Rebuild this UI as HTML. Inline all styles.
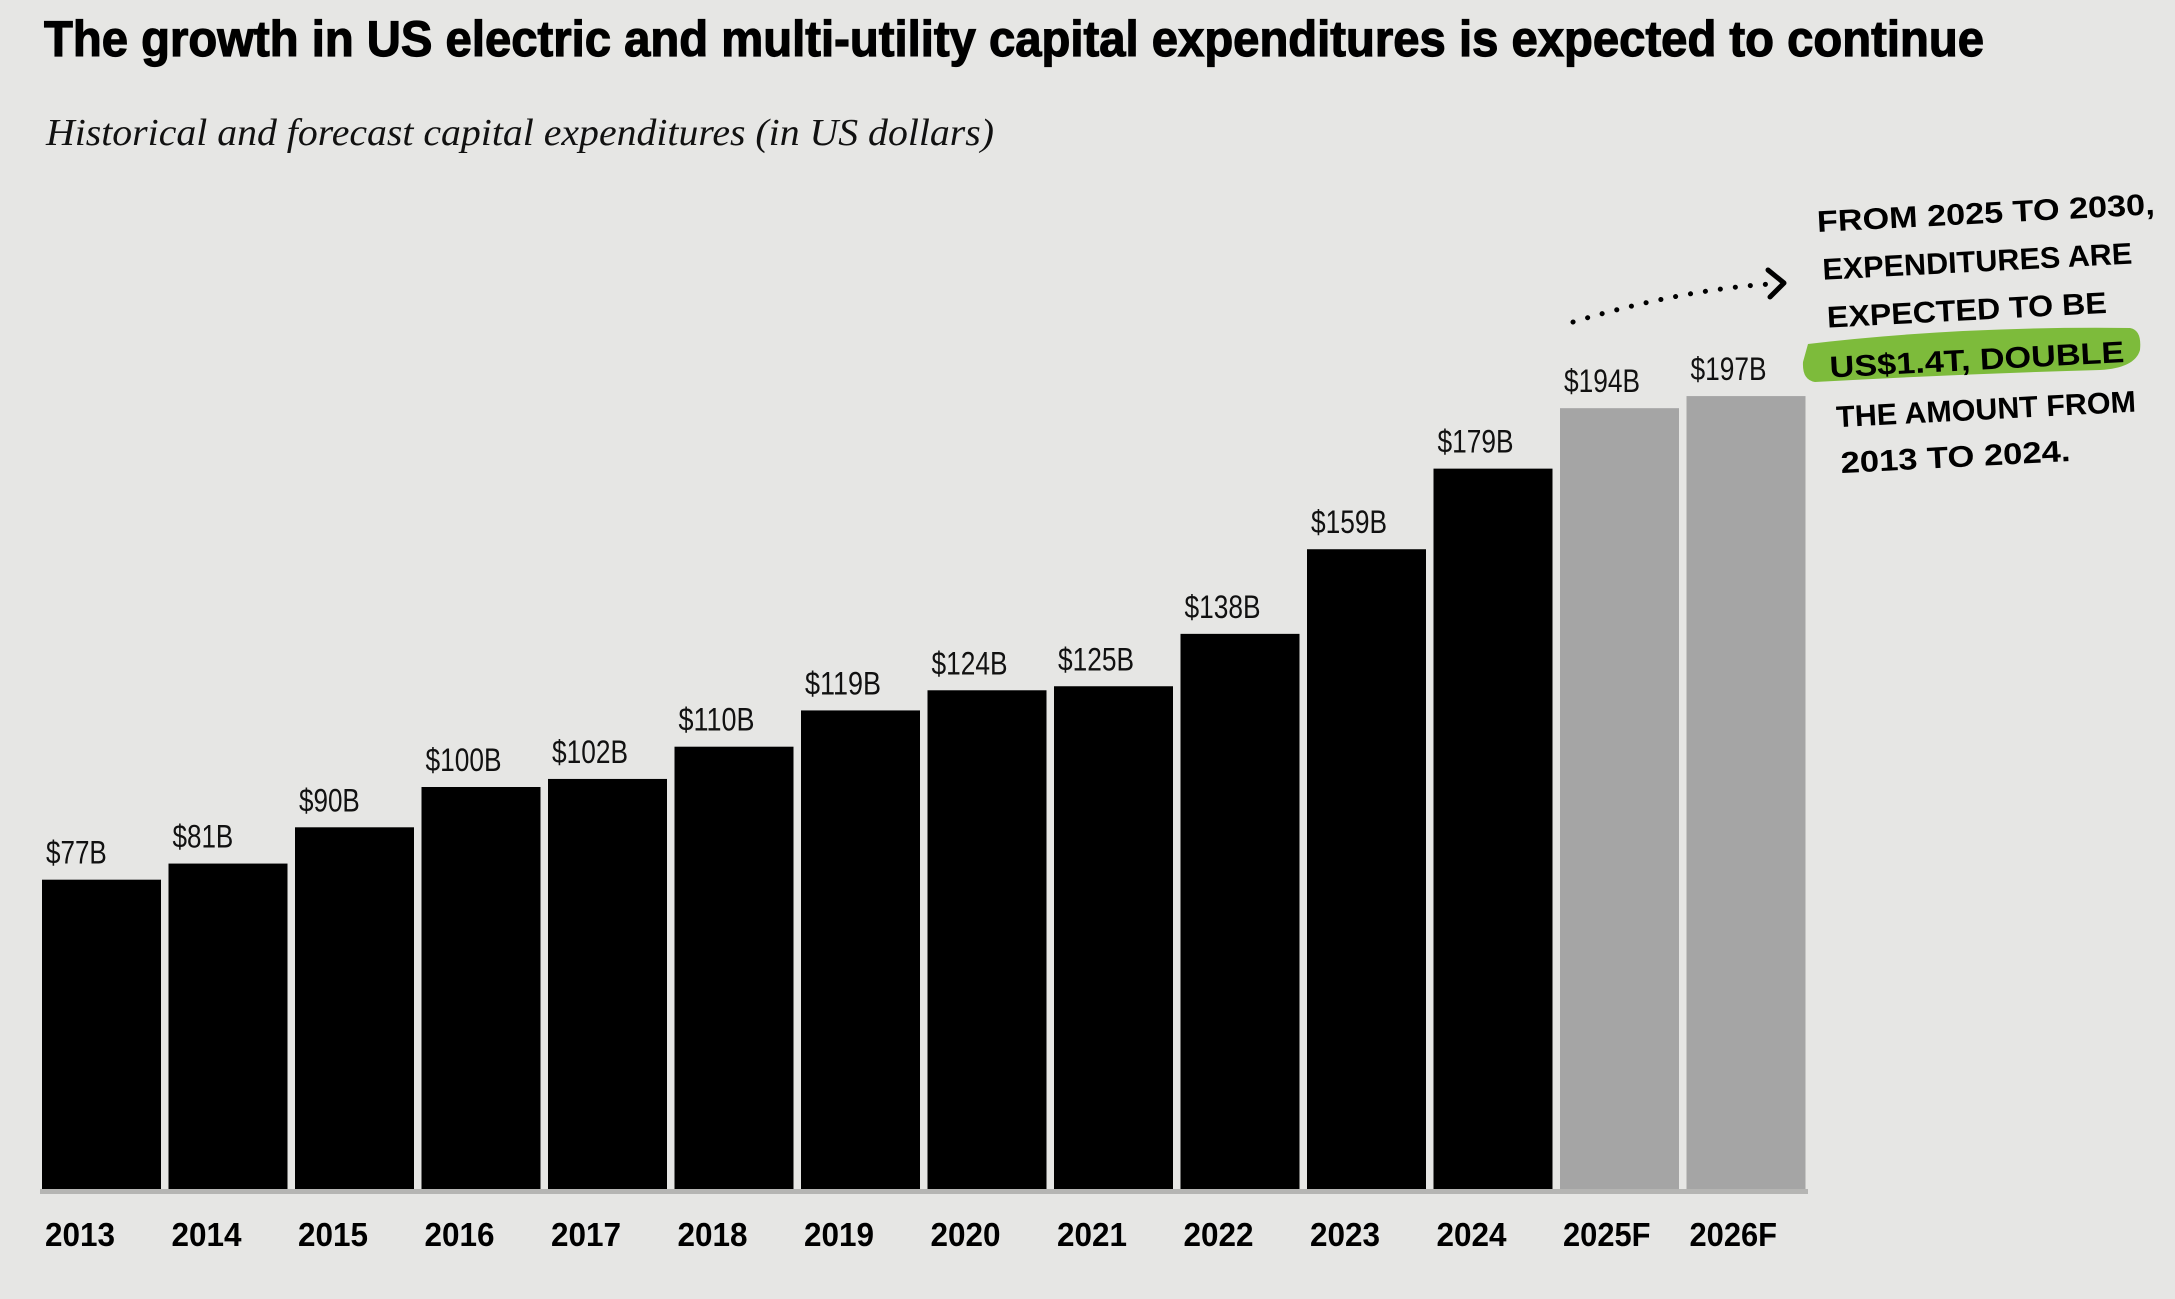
<!DOCTYPE html>
<html><head><meta charset="utf-8">
<style>
html,body{margin:0;padding:0;background:#e6e6e4;}
svg{display:block;}
</style></head>
<body>
<svg id="chart" width="2175" height="1299" viewBox="0 0 2175 1299" xmlns="http://www.w3.org/2000/svg">
<rect x="0" y="0" width="2175" height="1299" fill="#e6e6e4"/>
<text x="44" y="56" font-family="Liberation Sans, sans-serif" font-weight="900" font-size="50" textLength="1940" lengthAdjust="spacingAndGlyphs" fill="#000" stroke="#000" stroke-width="1.2">The growth in US electric and multi-utility capital expenditures is expected to continue</text>
<text x="46" y="145" font-family="Liberation Serif, serif" font-style="italic" font-size="38" textLength="948" lengthAdjust="spacingAndGlyphs" fill="#111">Historical and forecast capital expenditures (in US dollars)</text>
<g id="bars"></g>
<rect x="40" y="1189" width="1768" height="5" fill="#b5b5b3"/>
<g>
  <g>
    <path d="M1573 322 Q1680 290 1770 284" fill="none" stroke="#000" stroke-width="5" stroke-linecap="round" stroke-dasharray="0.1 15"/>
    <path d="M1768 270 L1784 283 L1770 297" fill="none" stroke="#000" stroke-width="5" stroke-linecap="round" stroke-linejoin="round"/>
  </g>
  <path d="M1808 344 Q1960 326 2130 328 Q2142 330 2140 350 Q2135 368 2100 370 Q1960 374 1815 382 Q1802 380 1803 362 Z" fill="#7dbb3b"/>
  <g font-family="Liberation Sans, sans-serif" font-weight="bold" font-size="30" fill="#000" transform="rotate(-3 1817 222)">
    <text x="1817" y="232" textLength="338" lengthAdjust="spacingAndGlyphs">FROM 2025 TO 2030,</text>
    <text x="1820" y="280" textLength="310" lengthAdjust="spacingAndGlyphs">EXPENDITURES ARE</text>
    <text x="1822" y="328" textLength="280" lengthAdjust="spacingAndGlyphs">EXPECTED TO BE</text>
    <text x="1822" y="378" textLength="295" lengthAdjust="spacingAndGlyphs">US$1.4T, DOUBLE</text>
    <text x="1826" y="428" textLength="300" lengthAdjust="spacingAndGlyphs">THE AMOUNT FROM</text>
    <text x="1828" y="474" textLength="230" lengthAdjust="spacingAndGlyphs">2013 TO 2024.</text>
  </g>
</g>
</svg>
<script>
const categories = ["2013","2014","2015","2016","2017","2018","2019","2020","2021","2022","2023","2024","2025F","2026F"];
const values = [77,81,90,100,102,110,119,124,125,138,159,179,194,197];
const valueLabels = ["$77B","$81B","$90B","$100B","$102B","$110B","$119B","$124B","$125B","$138B","$159B","$179B","$194B","$197B"];
const isForecast = [false,false,false,false,false,false,false,false,false,false,false,false,true,true];

const NS = "http://www.w3.org/2000/svg";
const baseY = 1190, pxPerB = 4.03, left0 = 42, pitch = 126.5, barW = 119;
function xPos(i){ return left0 + i * pitch; }
function yPos(v){ return baseY - v * pxPerB; }
const g = document.getElementById('bars');
categories.forEach((c, i) => {
  const r = document.createElementNS(NS, 'rect');
  
  
  r.setAttribute('x', xPos(i));
  r.setAttribute('y', yPos(values[i]));
  r.setAttribute('width', barW);
  r.setAttribute('height', baseY - yPos(values[i]));
  r.setAttribute('fill', isForecast[i] ? '#a5a5a5' : '#000');
  g.appendChild(r);

  const t = document.createElementNS(NS, 'text');
  
  
  t.setAttribute('x', xPos(i) + 4);
  t.setAttribute('y', yPos(values[i]) - 16);
  t.setAttribute('font-family', 'Liberation Sans Narrow, Liberation Sans, sans-serif');
  t.setAttribute('font-size', '32');
  t.setAttribute('fill', '#111');
  t.setAttribute('textLength', (valueLabels[i].length * 15.2).toFixed(1));
  t.setAttribute('lengthAdjust', 'spacingAndGlyphs');
  t.textContent = valueLabels[i];
  g.appendChild(t);

  const y = document.createElementNS(NS, 'text');
  
  
  y.setAttribute('x', xPos(i) + 3);
  y.setAttribute('y', 1246);
  y.setAttribute('font-family', 'Liberation Sans Narrow, Liberation Sans, sans-serif');
  y.setAttribute('font-weight', 'bold');
  y.setAttribute('font-size', '33');
  y.setAttribute('fill', '#000');
  y.setAttribute('textLength', (c.length * 17.5).toFixed(1));
  y.setAttribute('lengthAdjust', 'spacingAndGlyphs');
  y.textContent = c;
  g.appendChild(y);
});
</script>
</body></html>
